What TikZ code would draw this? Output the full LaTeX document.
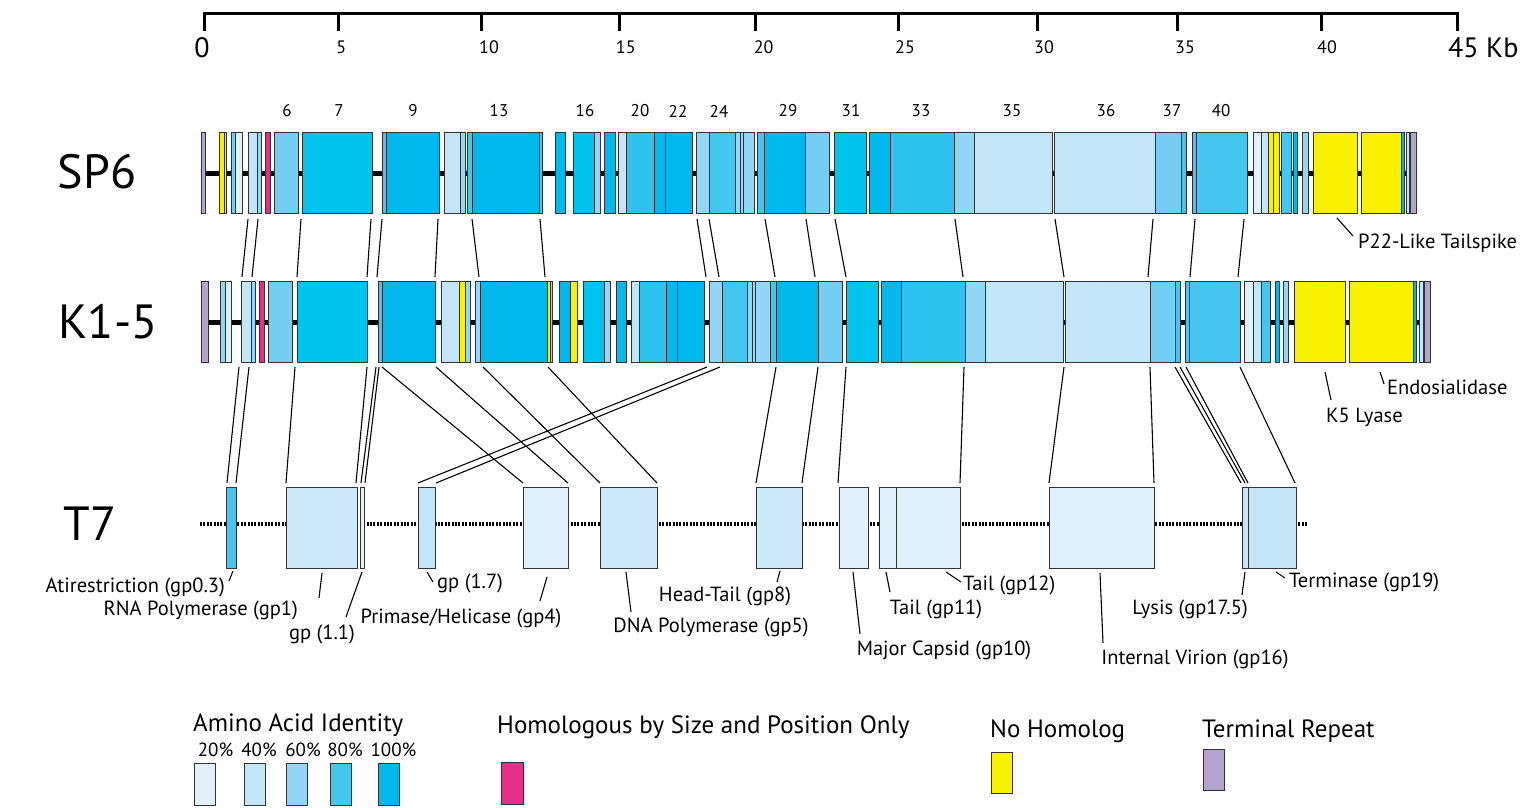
\documentclass[tikz,border=0pt]{standalone}
\usepackage{fontspec}
\setmainfont{PT Sans}
\definecolor{ca}{HTML}{E1F1FB}
\definecolor{cb}{HTML}{C2E5F8}
\definecolor{cc}{HTML}{94D6F5}
\definecolor{cs}{HTML}{74CDF2}
\definecolor{cd}{HTML}{45C6F0}
\definecolor{cn}{HTML}{2EC3EF}
\definecolor{ce}{HTML}{00B8EC}
\definecolor{cf}{HTML}{00C3EE}
\definecolor{cw}{HTML}{CDE8F9}
\definecolor{cy}{HTML}{F8F200}
\definecolor{cp}{HTML}{E62E89}
\definecolor{ct}{HTML}{B2A4CC}
\begin{document}
\begin{tikzpicture}[x=1pt,y=-1pt,
  gbox/.style={draw=black!80,line width=1pt},
  conn/.style={line width=1.1pt},
  axisline/.style={line width=3pt},
  backbone/.style={line width=5pt},
  dotline/.style={line width=4pt,dash pattern=on 2pt off 1.4pt},
  biglab/.style={font=\fontsize{48}{50}\selectfont,inner sep=0pt},
  ticklab/.style={font=\fontsize{18}{20}\selectfont,inner sep=0pt},
  endlab/.style={font=\fontsize{28}{30}\selectfont,inner sep=0pt},
  numlab/.style={font=\fontsize{17}{19}\selectfont,inner sep=0pt},
  lab/.style={font=\fontsize{20.5}{23}\selectfont,inner sep=0pt},
  leglab/.style={font=\fontsize{25}{27}\selectfont,inner sep=0pt,anchor=west},
  pctlab/.style={font=\fontsize{19}{21}\selectfont,inner sep=0pt}]
\useasboundingbox (0,0) rectangle (1526,807);

% ---------- scale ----------
\draw[axisline] (204,31) -- (204,13) -- (1457,13) -- (1457,31);
\foreach \k/\t in {5/338.7,10/481.7,15/619.4,20/755.8,25/898.4,30/1037,35/1177,40/1321}
  \draw[axisline] (\t,13) -- (\t,31);
\node[endlab] (a0) at (202,48) {0};
\foreach \k/\t in {5/341.4,10/489,15/625.8,20/763.6,25/905,30/1044,35/1185,40/1327}
  \node[ticklab] (a\k) at (\t,47) {\k};
\node[endlab,anchor=west] (a45) at (1448,48) {45 Kb};

% ---------- row labels ----------
\node[biglab] (sp6) at (97,172) {SP6};
\node[biglab] (k15) at (108,322) {K1-5};
\node[biglab] (t7) at (90,524) {T7};

% ---------- gene numbers ----------
\foreach \n/\t in {6/287,7/339,9/413,13/499,16/585,20/640,22/678,24/719,29/788,31/851,33/921,35/1012,36/1106,37/1172,40/1221}
  \node[numlab] (g\n) at (\t,111) {\n};

% ---------- backbones ----------
\draw[backbone] (205,173) -- (1416,173);
\draw[backbone] (208,322) -- (1425,322);
\draw[dotline] (200,524) -- (1308,524);

% ---------- SP6 genes ----------
\foreach \a/\b/\c in {201/205.7/ct,219.3/224.3/cy,224.3/226.7/cy,231/235.7/cs,235.7/242.3/ca,
  248.7/257.7/cb,257.7/261.3/cc,265.3/270.7/cp,274.3/298.3/cs,302/372.3/cf,
  382.7/386.7/cd,386.7/439/ce,444.3/460.7/cb,460.7/465.3/cc,467.7/472.3/cd,472.3/539.7/ce,
  539.7/542.3/cd,555.3/565.7/ce,573.3/594.3/cf,594.3/600.7/cc,604.7/615/ce,
  618.3/626.7/cb,626.7/654/cn,654/665/ce,665/692/ce,
  696.3/709.3/cc,709.3/735/cd,735/740/cc,740/743.3/cc,743.3/754.3/cc,
  757.3/764/cd,764/805.3/ce,805.3/829.7/cs,834.3/866.7/cf,
  869.3/890/ce,890/954.3/cn,954.3/974/cc,974/1052.3/cb,
  1054.3/1155.7/cb,1155.7/1181.7/cs,1181.7/1186.7/cd,1192.3/1196.7/cd,1196.7/1247/cd,
  1253.3/1261.7/ca,1261.7/1268.3/cb,1268.3/1273.3/cy,1273.3/1279.3/cy,1281.7/1291.7/cd,
  1293.3/1297.3/ce,1302.7/1308.3/cc,1313.3/1357.3/cy,1361.3/1401.7/cy,1401.7/1404.3/ce,
  1406/1409.3/cb,1410.7/1416/ct}
  \draw[gbox,fill=\c] (\a,132.5) rectangle (\b,213);

% ---------- K1-5 genes ----------
\foreach \a/\b/\c in {201.7/208.3/ct,220.7/225.7/cc,225.7/231.7/ca,241.7/251.7/cb,251.7/255.7/cc,
  259/264.3/cp,268.3/292.3/cs,297/367/cf,378.3/382.3/cd,382.3/435.7/ce,
  441/459.3/cb,459.3/465.3/cy,465.3/470.3/cc,475.3/480/cc,480/547.3/ce,547.3/550/cy,550/552.7/cc,
  559/570/ce,570/577.3/cy,583.3/604.5/cf,604.5/610.7/cc,616.7/626.3/ce,
  631.7/639/cb,639/666.3/cn,666.3/677.3/ce,677.3/704/ce,
  709/722/cc,722/747.3/cd,747.3/752.7/cc,752.7/755/cc,755/770.7/cc,770.7/776.7/cd,776.7/818.3/ce,
  818.3/842.3/cs,846/878.7/cf,881.7/901.7/ce,901.7/965.7/cn,965.7/985/cc,985/1063.3/cb,
  1065.3/1150/cb,1150/1175.7/cs,1175.7/1180.3/cd,1185/1189/cd,1189/1240/cd,
  1244.3/1253.3/ca,1253.3/1261.7/cb,1261.7/1270.3/cd,1275.3/1279.3/ce,1283.3/1288.7/cc,
  1294.7/1345.7/cy,1349.3/1413.3/cy,1413.3/1416.7/ce,1419.3/1423.3/cb,1424.3/1430.7/ct}
  \draw[gbox,fill=\c] (\a,281.5) rectangle (\b,362);

% ---------- T7 genes ----------
\foreach \a/\b/\c in {226/236/cd,286/357/cw,360/364.6/ca,418/435/cb,523/568/ca,600/657/cw,
  756/802/cw,839/868/ca,879/896/ca,896/960/ca,1049.6/1154.8/ca,1242/1248.5/cb,1248.5/1296/cb}
  \draw[gbox,fill=\c] (\a,487) rectangle (\b,568);

% ---------- SP6 -> K1-5 connectors ----------
\foreach \i/\a/\b in {1/248/242,2/258/252,3/301/297,4/371/367,5/382/377,6/438/435,7/472/479,
  8/540/545,9/697/706,10/709/719,11/765/775,12/806/815,13/835/846,14/955/963,15/1055/1064,
  16/1153/1148,17/1195/1190,18/1244/1238}{
  \coordinate (su\i) at (\a,219);
  \coordinate (kt\i) at (\b,277);
  \draw[conn] (su\i) -- (kt\i);
}

% ---------- K1-5 -> T7 connectors ----------
\foreach \i/\a/\b in {1/239/227,2/249/236,3/295/286,4/367/356,5/376/361,6/379/365,7/382/523,
  8/436/568,9/483/600,10/548/657,11/707/418,12/720/436,13/776/756,14/818/802,15/846/838,
  16/964/960,17/1064/1049,18/1150/1154,19/1175/1241,20/1180/1245,21/1186/1248,22/1240/1295}{
  \coordinate (kd\i) at (\a,367);
  \coordinate (tt\i) at (\b,483);
  \draw[conn] (kd\i) -- (tt\i);
}

% ---------- SP6 / K1-5 annotations ----------
\coordinate (p1) at (1337,218); \coordinate (p2) at (1353,236);
\draw[conn] (p1) -- (p2);
\node[lab,anchor=west] (p22) at (1358,243) {P22-Like Tailspike};
\coordinate (q1) at (1325,372); \coordinate (q2) at (1331,400);
\draw[conn] (q1) -- (q2);
\node[lab,anchor=west] (k5) at (1326,417) {K5 Lyase};
\coordinate (r1) at (1380,372); \coordinate (r2) at (1384,384);
\draw[conn] (r1) -- (r2);
\node[lab,anchor=west] (endo) at (1387,387) {Endosialidase};

% ---------- T7 annotations ----------
\foreach \i/\xa/\ya/\xb/\yb in {1/233/571/229/581,2/322/573/319/598,3/362/572/346/617,4/427/572/433/582,
  5/547/577/540/601,6/626/572/631/612,7/780/571/777/582,8/853/572/860/634,9/886/572/890/592,
  10/946/572/961/582,11/1100/573/1103/643,12/1245/572/1242/595,13/1276/572/1285/578}{
  \coordinate (la\i) at (\xa,\ya);
  \coordinate (lb\i) at (\xb,\yb);
  \draw[conn] (la\i) -- (lb\i);
}
\node[lab,anchor=east] (n1) at (225,587) {Atirestriction (gp0.3)};
\node[lab,anchor=east] (n2) at (298,610) {RNA Polymerase (gp1)};
\node[lab] (n3) at (322,634) {gp (1.1)};
\node[lab,anchor=west] (n4) at (437,583) {gp (1.7)};
\node[lab] (n5) at (461,618) {Primase/Helicase (gp4)};
\node[lab] (n6) at (711,627) {DNA Polymerase (gp5)};
\node[lab] (n7) at (725,596) {Head-Tail (gp8)};
\node[lab] (n8) at (944,650) {Major Capsid (gp10)};
\node[lab] (n9) at (936,609) {Tail (gp11)};
\node[lab,anchor=west] (n10) at (963,585) {Tail (gp12)};
\node[lab] (n11) at (1195,659) {Internal Virion (gp16)};
\node[lab] (n12) at (1190,609) {Lysis (gp17.5)};
\node[lab,anchor=west] (n13) at (1289,582) {Terminase (gp19)};

% ---------- legend ----------
\node[leglab] (lg1) at (193,725) {Amino Acid Identity};
\foreach \p/\t in {20/215.5,40/259,60/303,80/345,100/393.5}
  \node[pctlab] (pc\p) at (\t,750) {\p\%};
\foreach \a/\c in {194/ca,244/cb,286/cc,330/cd,378/ce}
  \draw[gbox,fill=\c] (\a,763) rectangle ++(21,42);
\node[leglab] (lg2) at (497,727) {Homologous by Size and Position Only};
\draw[gbox,fill=cp] (501,762) rectangle (523,804);
\node[leglab] (lg3) at (990,731) {No Homolog};
\draw[gbox,fill=cy] (991,752) rectangle (1012,793);
\node[leglab] (lg4) at (1202,731) {Terminal Repeat};
\draw[gbox,fill=ct] (1203,749) rectangle (1224,790);
\end{tikzpicture}
\end{document}
